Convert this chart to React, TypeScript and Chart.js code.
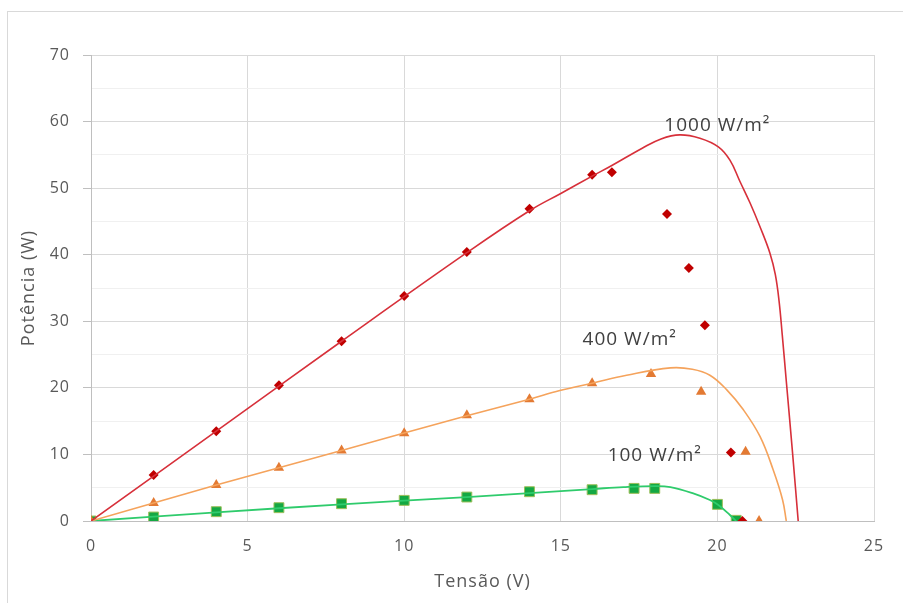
import React, { useEffect, useRef } from "react";
import { Chart, registerables } from "chart.js";

Chart.register(...registerables);

// Measured points (markers)
const v1000 = [2, 4, 6, 8, 10, 12, 14, 16, 16.63, 18.39, 19.09, 19.6, 20.43, 20.8];
const p1000 = [6.9, 13.5, 20.4, 27.0, 33.8, 40.4, 46.9, 52.0, 52.4, 46.1, 38.0, 29.4, 10.3, 0];

const v400 = [0, 2, 4, 6, 8, 10, 12, 14, 16, 17.88, 19.48, 20.9, 21.33];
const p400 = [0, 2.7, 5.4, 8.0, 10.6, 13.2, 15.9, 18.3, 20.7, 22.1, 19.4, 10.4, 0];

const v100 = [0, 2, 4, 6, 8, 10, 12, 14, 16, 17.34, 18, 20, 20.6];
const p100 = [0, 0.6, 1.4, 2.0, 2.6, 3.1, 3.6, 4.4, 4.7, 4.9, 4.9, 2.5, 0.1];

// Model curves (smooth lines)
const cv1000 = [0, 4, 8, 12, 14, 15, 16, 16.63, 17.6, 18.2, 18.8, 19.44, 20.03, 20.4, 20.72, 21.04, 21.36, 21.68, 21.85, 21.97, 22.07, 22.2, 22.4, 22.58];
const cp1000 = [0, 13.5, 27.0, 40.3, 46.6, 49.2, 51.8, 53.4, 56.0, 57.4, 58.0, 57.5, 56.2, 54.2, 51.0, 47.8, 44.2, 40.2, 37.0, 33.0, 28.0, 21.0, 10.2, 0];

const cv400 = [0, 4, 8, 12, 14, 14.97, 16, 17.1, 18.5, 19.2, 19.76, 20.3, 20.83, 21.36, 21.78, 22.08, 22.2];
const cp400 = [0, 5.4, 10.6, 15.8, 18.3, 19.6, 20.7, 21.9, 23.0, 22.8, 21.9, 19.7, 16.7, 12.7, 7.7, 3.2, 0];

const cv100 = [0, 4, 8, 12, 14, 15, 16, 17, 18, 18.5, 19.23, 19.76, 20.03, 20.4, 20.6];
const cp100 = [0, 1.3, 2.5, 3.6, 4.2, 4.5, 4.8, 5.1, 5.25, 5.1, 4.15, 3.15, 2.4, 0.9, 0];

// Curve labels
const labelTexts = ["1000 W/m²", "400 W/m²", "100 W/m²"];
const labelX = [20.0, 17.2, 18.0];
const labelY = [59.4, 27.2, 9.8];

const xTicks = [0, 5, 10, 15, 20, 25];
const yTicks = [0, 10, 20, 30, 40, 50, 60, 70];

const FONT = "'Open Sans', sans-serif";

const toXY = (xs: number[], ys: number[]) => xs.map((x, i) => ({ x, y: ys[i] }));

const spacing = (chart: any) => {
  try {
    chart.ctx.letterSpacing = "1px";
  } catch (e) {}
};

const labelPlugin = {
  id: "curveLabels",
  beforeLayout: spacing,
  beforeDraw: spacing,
  afterDatasetsDraw(chart: any) {
    const { ctx, scales } = chart;
    ctx.save();
    ctx.letterSpacing = "1px";
    ctx.font = `19px ${FONT}`;
    ctx.fillStyle = "#404040";
    ctx.textAlign = "center";
    ctx.textBaseline = "middle";
    labelTexts.forEach((t, i) => {
      ctx.fillText(t, scales.x.getPixelForValue(labelX[i]), scales.y.getPixelForValue(labelY[i]));
    });
    ctx.restore();
  },
};

const curve = (xs: number[], ys: number[], color: string, w: number) => ({
  type: "line",
  data: toXY(xs, ys),
  borderColor: color,
  borderWidth: w,
  pointRadius: 0,
  tension: 0.4,
  fill: false,
});

export default function App() {
  const ref = useRef<HTMLCanvasElement | null>(null);
  useEffect(() => {
    if (!ref.current) return;
    const chart = new Chart(ref.current, {
      type: "scatter",
      data: {
        datasets: [
          curve(cv1000, cp1000, "#d7303a", 1.6),
          curve(cv400, cp400, "#f5a35c", 1.6),
          curve(cv100, cp100, "#2fcb6c", 1.8),
          {
            data: toXY(v1000, p1000),
            pointStyle: "rectRot",
            pointRadius: 5,
            backgroundColor: "#c00000",
            borderColor: "#c00000",
            borderWidth: 0,
          },
          {
            data: toXY(v400, p400),
            pointStyle: "triangle",
            pointRadius: 6,
            backgroundColor: "#e37a33",
            borderColor: "#e37a33",
            borderWidth: 0,
          },
          {
            data: toXY(v100, p100),
            pointStyle: "rect",
            pointRadius: 7,
            backgroundColor: "#14a843",
            borderColor: "#9cbf5a",
            borderWidth: 1,
          },
        ],
      },
      options: {
        animation: false,
        responsive: true,
        maintainAspectRatio: false,
        layout: { padding: { left: 0, top: 55, right: 29, bottom: 0 } },
        plugins: { legend: { display: false }, tooltip: { enabled: false } },
        scales: {
          x: {
            type: "linear",
            min: 0,
            max: 25,
            afterBuildTicks: (s: any) => {
              s.ticks = xTicks.map((v) => ({ value: v }));
            },
            afterFit: (s: any) => {
              s.height = 82;
            },
            ticks: { color: "#595959", font: { family: FONT, size: 16 }, padding: 16 },
            grid: { color: "#d9d9d9", drawTicks: false },
            border: { color: "#bfbfbf" },
            title: {
              display: true,
              text: "Tensão (V)",
              color: "#595959",
              font: { family: FONT, size: 18 },
              padding: { top: 0, bottom: 10 },
            },
          },
          y: {
            type: "linear",
            min: 0,
            max: 70,
            afterBuildTicks: (s: any) => {
              const t: any[] = [];
              for (let v = 0; v <= 70; v += 5) t.push({ value: v });
              s.ticks = t;
            },
            afterFit: (s: any) => {
              s.width = 91;
            },
            ticks: {
              color: "#595959",
              font: { family: FONT, size: 16 },
              padding: 13,
              callback: (v: any) => (yTicks.includes(Number(v)) ? String(v) : ""),
            },
            grid: {
              color: (c: any) => (c.tick && c.tick.value % 10 === 0 ? "#d9d9d9" : "#f0f0f0"),
              tickColor: (c: any) => (c.tick && c.tick.value % 10 === 0 ? "#bfbfbf" : "rgba(0,0,0,0)"),
              tickLength: 8,
            },
            border: { color: "#bfbfbf" },
            title: {
              display: true,
              text: "Potência (W)",
              color: "#595959",
              font: { family: FONT, size: 18 },
              padding: { top: 18, bottom: 0 },
            },
          },
        },
      },
      plugins: [labelPlugin],
    } as any);
    return () => chart.destroy();
  }, []);

  return (
    <div style={{ position: "fixed", left: 0, top: 0, width: 903, height: 603, background: "#fff", overflow: "hidden" }}>
      <div
        style={{
          position: "absolute",
          left: 7,
          top: 11,
          width: 1000,
          height: 700,
          border: "1px solid #d9d9d9",
          boxSizing: "border-box",
        }}
      />
      <div style={{ position: "absolute", left: 0, top: 0, width: 903, height: 603 }}>
        <canvas ref={ref} />
      </div>
    </div>
  );
}
